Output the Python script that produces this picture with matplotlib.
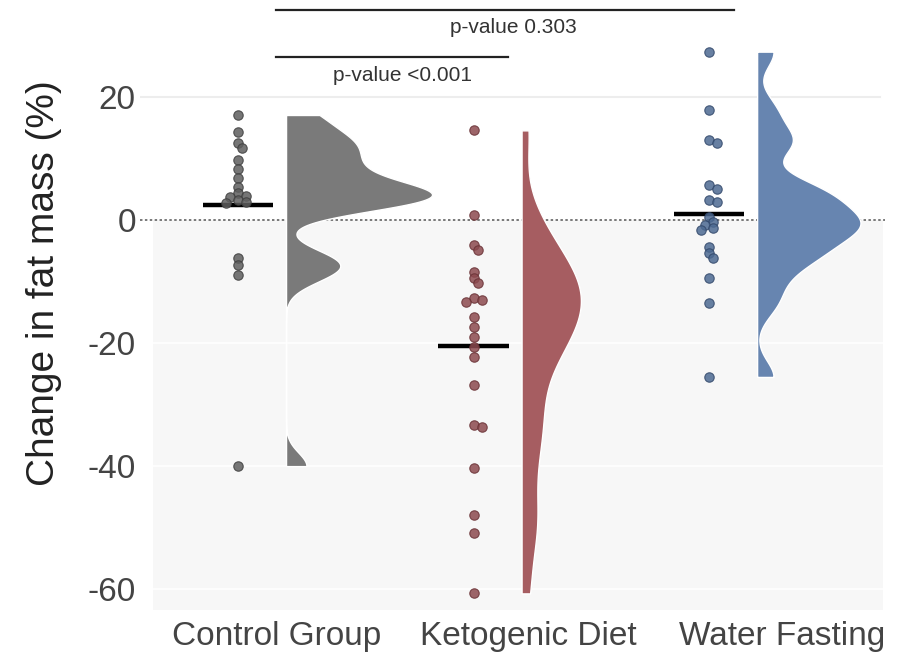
import numpy as np
import matplotlib.pyplot as plt

plt.rcParams['font.family'] = ['Liberation Sans', 'DejaVu Sans']

# ----- data -----
groups = ["Control Group", "Ketogenic Diet", "Water Fasting"]
control = [17.1, 14.4, 12.5, 11.7, 9.8, 8.3, 6.8, 5.4, 4.4, 4.0, 3.7, 3.3,
           3.0, 2.8, -6.2, -7.3, -8.9, -40.0]
keto = [14.6, 0.8, -4.1, -4.9, -8.4, -9.4, -10.2, -12.7, -13.0, -13.3,
        -15.8, -17.4, -19.0, -20.6, -22.3, -26.8, -33.3, -33.7, -40.3,
        -48.0, -50.9, -60.7]
water = [27.4, 17.9, 13.0, 12.5, 5.7, 5.0, 3.3, 3.0, 0.5, -0.3, -0.8,
         -1.3, -1.6, -4.3, -5.4, -6.2, -9.4, -13.5, -25.5]
yticks = [20, 0, -20, -40, -60]
p_labels = ["p-value 0.303", "p-value <0.001"]

# ----- style -----
violin_colors = ["#7a7a7a", "#a65d61", "#6785b0"]
dot_colors = ["#5e5e5e", "#8c4a4f", "#4d6a92"]
dot_edges = ["#3f3f3f", "#6a3236", "#33496b"]
bandwidths = [2.2, 5.5, 2.6]
label_pos = [0.166, 1.231, 2.312]

X0, X1 = -0.416, 2.747
Y0, Y1 = -63.4, 35.8
AX_PX = (140, 0, 745, 610)       # left, top, width, height in pixels
FIG_W, FIG_H = 897, 659
px_x = AX_PX[2] / (X1 - X0)
px_y = AX_PX[3] / (Y1 - Y0)


def kde(vals, grid, bw):
    v = np.asarray(vals)[:, None]
    z = (grid[None, :] - v) / bw
    return np.exp(-0.5 * z ** 2).sum(0) / (len(vals) * bw * np.sqrt(2 * np.pi))


def swarm(vals, step=4.0, min_d=6.0):
    # small horizontal dodge so overlapping points stay visible
    vals = np.asarray(vals)
    offs = np.zeros(len(vals))
    placed = []
    for i in np.argsort(vals)[::-1]:
        y = vals[i] * px_y
        for k in [0, 1, -1, 2, -2, 3, -3]:
            x = k * step
            if all((x - a) ** 2 + (y - b) ** 2 >= min_d ** 2 for a, b in placed):
                break
        placed.append((x, y))
        offs[i] = x
    return offs / px_x


fig = plt.figure(figsize=(FIG_W / 100, FIG_H / 100), dpi=100)
ax = fig.add_axes([AX_PX[0] / FIG_W, 1 - (AX_PX[1] + AX_PX[3]) / FIG_H,
                   AX_PX[2] / FIG_W, AX_PX[3] / FIG_H])
ax.set_xlim(X0, X1)
ax.set_ylim(Y0, Y1)

# background: shaded below zero, light grid
ax.axhspan(Y0, 0, xmin=0.017, xmax=0.997, color="#f7f7f7", zorder=0, lw=0)
ax.axhline(20, xmin=0, xmax=0.993, color="#ededed", lw=1.5, zorder=0.5)
for t in yticks[2:]:
    ax.axhline(t, xmin=0.017, xmax=0.997, color="white", lw=1.2, zorder=0.5)
ax.axhline(0, color="#555555", lw=1.1, dashes=(1.6, 1.6), zorder=2)

# scale all half-violins with the same factor so areas are equal
grids = []
dens = []
for vals, bw in zip([control, keto, water], bandwidths):
    g = np.linspace(min(vals), max(vals), 400)
    grids.append(g)
    dens.append(kde(vals, g, bw))
scale = 0.62 / max(d.max() for d in dens)

for i, vals in enumerate([control, keto, water]):
    base = i + 0.204
    ax.fill_betweenx(grids[i], base, base + dens[i] * scale,
                     facecolor=violin_colors[i], edgecolor="white",
                     lw=1.0, zorder=2.5)
    xs = i + swarm(vals)
    ax.scatter(xs, vals, s=46, color=dot_colors[i], edgecolor=dot_edges[i],
               linewidth=0.8, alpha=0.85, zorder=4)
    ax.hlines(np.mean(vals), i - 0.15, i + 0.15, color="black", lw=3.2,
              zorder=3.5)

# significance brackets
ax.plot([0.161, 2.106], [34.1, 34.1], color="#222222", lw=1.6,
        clip_on=False, zorder=5)
ax.text(1.168, 31.4, p_labels[0], ha="center", va="center", fontsize=15,
        color="#333333")
ax.plot([0.161, 1.146], [26.5, 26.5], color="#222222", lw=1.6,
        clip_on=False, zorder=5)
ax.text(0.70, 23.6, p_labels[1], ha="center", va="center", fontsize=15,
        color="#333333")

ax.set_yticks(yticks)
ax.set_yticklabels([str(t) for t in yticks])
ax.set_xticks(label_pos)
ax.set_xticklabels(groups)
ax.tick_params(axis="y", length=0, pad=3, labelsize=24, labelcolor="#444444")
ax.tick_params(axis="x", length=0, pad=8, labelsize=24, labelcolor="#444444")
for s in ax.spines.values():
    s.set_visible(False)

ax.set_ylabel("Change in fat mass (%)", fontsize=28, color="#222222")
ax.yaxis.set_label_coords((62 - AX_PX[0]) / AX_PX[2], 1 - 283 / AX_PX[3])

fig.savefig("out.png", dpi=100)
